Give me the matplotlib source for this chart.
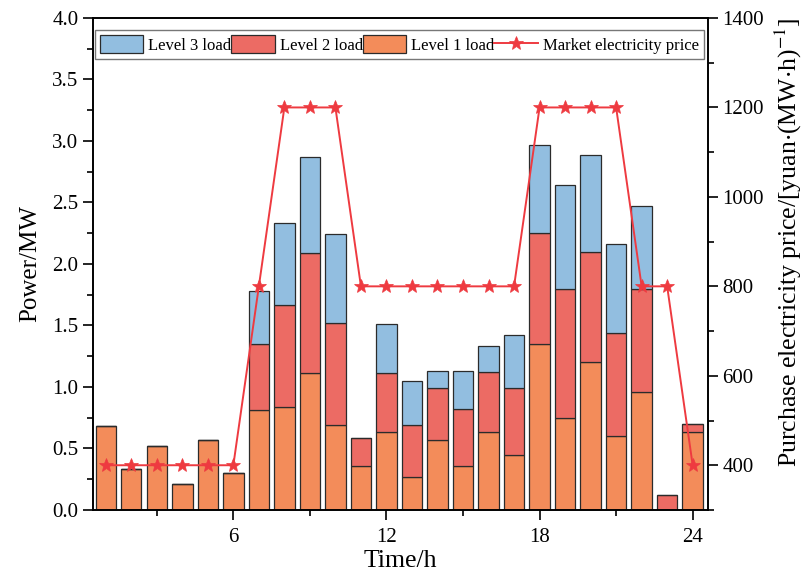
import numpy as np
import matplotlib
matplotlib.use('Agg')
import matplotlib.pyplot as plt
from matplotlib.ticker import MultipleLocator

plt.rcParams['font.family'] = ['Liberation Serif', 'DejaVu Serif']
plt.rcParams['mathtext.fontset'] = 'stix'

# ── Data ─────────────────────────────────────────────────────────────────────
hours = np.arange(1, 25)
level1 = [0.68, 0.33, 0.52, 0.21, 0.57, 0.30, 0.81, 0.84, 1.11, 0.69, 0.36, 0.63,
          0.27, 0.57, 0.36, 0.63, 0.45, 1.35, 0.75, 1.20, 0.60, 0.96, 0.00, 0.63]
level2 = [0.00, 0.00, 0.00, 0.00, 0.00, 0.00, 0.54, 0.83, 0.98, 0.83, 0.225, 0.48,
          0.42, 0.42, 0.46, 0.49, 0.54, 0.90, 1.05, 0.90, 0.84, 0.84, 0.12, 0.07]
level3 = [0.00, 0.00, 0.00, 0.00, 0.00, 0.00, 0.43, 0.66, 0.78, 0.72, 0.00, 0.40,
          0.36, 0.14, 0.31, 0.21, 0.43, 0.72, 0.84, 0.79, 0.72, 0.67, 0.00, 0.00]
price = [400, 400, 400, 400, 400, 400, 800, 1200, 1200, 1200, 800, 800,
         800, 800, 800, 800, 800, 1200, 1200, 1200, 1200, 800, 800, 400]

# ── Palette ──────────────────────────────────────────────────────────────────
C1 = '#F38C5A'
C2 = '#EC6B64'
C3 = '#92BEE0'
CL = '#EE3A40'
EC = '#2b2b2b'

fig = plt.figure(figsize=(8.05, 5.88), dpi=100)
ax = fig.add_axes([0.1155, 0.1327, 0.764, 0.8367])

l1 = np.array(level1)
l2 = np.array(level2)
l3 = np.array(level3)
W = 0.8
b1 = ax.bar(hours, l1, W, color=C1, edgecolor=EC, linewidth=0.9, zorder=2)
b2 = ax.bar(hours, l2, W, bottom=l1, color=C2, edgecolor=EC, linewidth=0.9, zorder=2)
b3 = ax.bar(hours, l3, W, bottom=l1 + l2, color=C3, edgecolor=EC, linewidth=0.9, zorder=2)

ax.set_xlim(0.5, 24.6)
ax.set_ylim(0, 4.0)
ax.xaxis.set_major_locator(MultipleLocator(6))
ax.xaxis.set_minor_locator(MultipleLocator(3))
ax.yaxis.set_major_locator(MultipleLocator(0.5))
ax.yaxis.set_minor_locator(MultipleLocator(0.25))
ax.yaxis.set_major_formatter(plt.FuncFormatter(lambda v, p: f'{v:.1f}'))
ax.set_xticks([6, 12, 18, 24])
ax.tick_params(axis='both', which='major', direction='out', length=7, width=1.2, labelsize=15)
ax.tick_params(axis='both', which='minor', direction='out', length=4, width=1.2)
ax.tick_params(axis='x', pad=6)
for s in ax.spines.values():
    s.set_linewidth(1.2)
ax.set_xlabel('Time/h', fontsize=18.5, labelpad=2)
ax.set_ylabel('Power/MW', fontsize=18, labelpad=8)

ax2 = ax.twinx()
ln, = ax2.plot(hours, price, color=CL, linewidth=1.4, marker='*', markersize=10,
               markeredgecolor=CL, markeredgewidth=0.5, markerfacecolor=CL, zorder=4)
ax2.set_ylim(300, 1400)
ax2.yaxis.set_major_locator(MultipleLocator(200))
ax2.yaxis.set_minor_locator(MultipleLocator(100))
ax2.set_yticks([400, 600, 800, 1000, 1200, 1400])
ax2.tick_params(axis='y', which='major', direction='out', length=7, width=1.2, labelsize=15)
ax2.tick_params(axis='y', which='minor', direction='out', length=4, width=1.2)
for s in ax2.spines.values():
    s.set_linewidth(1.2)
ax2.set_ylabel(r'Purchase electricity price/[yuan$\cdot$(MW$\cdot$h)$^{-1}$]', fontsize=18.5)
ax2.yaxis.set_label_coords(1.105, 0.545)

leg = ax2.legend([b3, b2, b1, ln],
                 ['Level 3 load', 'Level 2 load', 'Level 1 load', 'Market electricity price'],
                 loc='upper left', bbox_to_anchor=(0.003, 0.975), ncol=4, fontsize=12,
                 frameon=True, fancybox=False, edgecolor='#555555', handlelength=2.6,
                 handleheight=1.3, handletextpad=0.3, columnspacing=0.0, borderpad=0.3,
                 borderaxespad=0.0)
leg.get_frame().set_linewidth(1.0)

fig.savefig('out.png', dpi=100)
